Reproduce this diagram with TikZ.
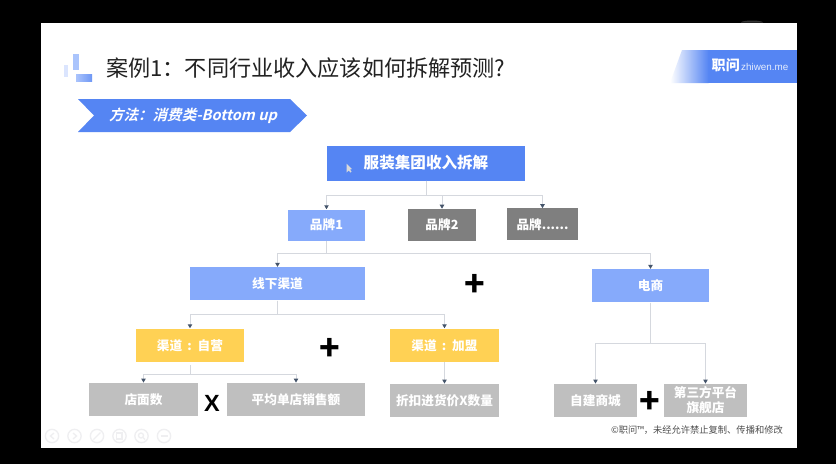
\documentclass[tikz,border=0pt]{standalone}
\usepackage{fontspec}
\usepackage{xcolor}
\usepackage{tikz}
\usetikzlibrary{arrows.meta,calc}
\setmainfont{Noto Sans CJK SC}
\newfontfamily\slantfont[FakeSlant=0.25,BoldFont={Noto Sans CJK SC Bold},BoldFeatures={FakeSlant=0.25}]{Noto Sans CJK SC}
\setsansfont{Liberation Sans}
\definecolor{ink}{HTML}{222222}
\definecolor{bluemain}{HTML}{5585F3}
\definecolor{bluesoft}{HTML}{86AAFB}
\definecolor{graydark}{HTML}{7F7F7F}
\definecolor{graysoft}{HTML}{BFBFBF}
\definecolor{amber}{HTML}{FFD154}
\definecolor{linegray}{HTML}{D5D8DE}
\definecolor{tipgray}{HTML}{44546A}
\definecolor{iconpale}{HTML}{EFEFF1}
\tikzset{
  box/.style={rectangle, draw=none, align=center, text=white, font=\fontsize{10.8}{12.8}\selectfont\bfseries, inner sep=0pt},
  headbox/.style={box, fill=bluemain, minimum width=5.94cm, minimum height=1.05cm, font=\fontsize{13.3}{15}\selectfont\bfseries},
  softbox/.style={box, fill=bluesoft, minimum height=1.0cm},
  darkbox/.style={box, fill=graydark, minimum height=0.95cm},
  ambbox/.style={box, fill=amber, minimum width=3.26cm, minimum height=1.0cm},
  leaf/.style={box, fill=graysoft, minimum height=1.0cm},
  sign/.style={font=\fontsize{29}{29}\selectfont\bfseries, text=black, inner sep=0pt},
  arrow/.style={draw=linegray, line width=0.03cm, -{Triangle[length=1.2mm,width=1.3mm,color=tipgray]}},
  icon/.style={circle, draw=iconpale, line width=0.04cm, minimum size=0.4cm, inner sep=0pt}
}
\begin{document}
\begin{tikzpicture}[x=0.03cm,y=-0.03cm]
  \useasboundingbox (0,0) rectangle (836,464);
  \fill[black] (0,0) rectangle (836,464);
  \fill[white] (41,22.5) rectangle (797,448);
  \fill[black!80] (741,22.5) arc[start angle=180, end angle=360, x radius=11, y radius=2] -- cycle;
  % logo
  \fill[bluesoft!30] (64,65) rectangle (67.5,77);
  \fill[bluesoft!70] (73,54) rectangle (79,70);
  \shade[left color=bluesoft!70, right color=bluemain!85] (76,74) rectangle (92,81);
  % title
  \node[anchor=west, inner sep=0pt, text=ink, font=\fontsize{18.9}{20}\selectfont] (title) at (106,68) {案例1^^^^ff1a不同行业收入应该如何拆解预测?};
  % badge
  \fill[bluemain] (708,50) rectangle (797,83);
  \shade[left color=white, right color=bluemain, draw=none] (670,83) -- (682,50) -- (708.5,50) -- (708.5,83) -- cycle;
  \node[anchor=west, inner sep=0pt, text=white, font=\fontsize{12}{13}\selectfont\bfseries] (brandcn) at (711.5,65.5) {职问};
  \node[anchor=west, inner sep=0pt, text=white!85!bluemain, font=\fontsize{8.4}{9}\sffamily] (brandurl) at (741,67) {zhiwen.me};
  % method banner
  \fill[bluemain] (78,99) -- (290,99) -- (307,115.5) -- (290,132) -- (78,132) -- (94,115.5) -- cycle;
  \node[inner sep=0pt, text=white, font=\fontsize{12.4}{13}\slantfont\bfseries] (method) at (193,116) {方法^^^^ff1a消费类-Bottom up};
  % tree
  \node[headbox] (group) at (426,163) {服装集团收入拆解};
  \node[softbox, minimum width=2.31cm, minimum height=0.93cm] (brand1) at (326.5,225) {品牌1};
  \node[darkbox, minimum width=2.04cm] (brand2) at (442,224.8) {品牌2};
  \node[darkbox, minimum width=2.13cm] (brand3) at (542.5,224.3) {品牌......};
  \node[softbox, minimum width=5.25cm] (offline) at (277.5,283.8) {线下渠道};
  \node[softbox, minimum width=3.51cm] (online) at (650.5,285.8) {电商};
  \node[ambbox] (direct) at (190,345.2) {渠道 \,:\, 自营};
  \node[ambbox] (franchise) at (444.5,345.2) {渠道 \,:\, 加盟};
  \node[leaf, minimum width=3.27cm] (stores) at (143.5,399.5) {店面数};
  \node[leaf, minimum width=4.14cm] (sales) at (296,399.5) {平均单店销售额};
  \node[leaf, minimum width=3.27cm] (discount) at (444.5,400.5) {折扣进货价X数量};
  \node[leaf, minimum width=2.49cm] (ownshop) at (595.5,400.5) {自建商城};
  \node[leaf, minimum width=2.49cm] (thirdshop) at (705.5,400.5) {第三方平台\\旗舰店};
  % signs
  \node[sign] (plusa) at (474.5,285) {+};
  \node[sign] (plusb) at (329.5,349) {+};
  \node[sign] (plusc) at (649.5,402) {+};
  \node[sign, font=\fontsize{20}{20}\sffamily\bfseries] (times) at (212,403) {X};
  % connectors
  \coordinate (busa) at (426,195);
  \coordinate (busb) at (326.5,253.5);
  \coordinate (busc) at (277.5,314.5);
  \coordinate (busd) at (190,374.5);
  \coordinate (buse) at (650.5,343);
  \draw[arrow] (group.south) -- (busa) -| (brand1.north);
  \draw[arrow] (group.south) -- (busa) -| (brand2.north);
  \draw[arrow] (group.south) -- (busa) -| (brand3.north);
  \draw[arrow] (brand1.south) -- (busb) -| (offline.north);
  \draw[arrow] (brand1.south) -- (busb) -| (online.north);
  \draw[arrow] (offline.south) -- (busc) -| (direct.north);
  \draw[arrow] (offline.south) -- (busc) -| (franchise.north);
  \draw[arrow, shorten <=0.1cm] (direct.south) -- (busd) -| (stores.north);
  \draw[arrow, shorten <=0.1cm] (direct.south) -- (busd) -| (sales.north);
  \draw[arrow] (franchise.south) -- (discount.north);
  \draw[arrow] (online.south) -- (buse) -| (ownshop.north);
  \draw[arrow] (online.south) -- (buse) -| (thirdshop.north);
  % pointer
  \fill[white!85!black] (346.5,163.5) -- (346.5,172.5) -- (348.6,170.4) -- (350.5,172.5) -- (351.5,171.5) -- (350,169.5) -- (352,169) -- cycle;
  % footer
  \node[anchor=east, inner sep=0pt, text=ink!80, font=\fontsize{7.9}{9}\selectfont] (footer) at (783,430) {©职问™^^^^ff0c未经允许禁止复制、传播和修改};
  % player icons
  \foreach \name/\xpos in {prev/52, next/74.5, pen/97, copy/119.5, zoom/141.5, more/164}
    \node[icon] (\name) at (\xpos,436) {};
  \draw[iconpale, line width=0.04cm] (54,433) -- (50.5,436) -- (54,439);
  \draw[iconpale, line width=0.04cm] (73,433) -- (76.5,436) -- (73,439);
  \draw[iconpale, line width=0.04cm] (93.5,439.5) -- (100.5,432.5);
  \draw[iconpale, line width=0.04cm] (116.5,433) rectangle (122,439);
  \draw[iconpale, line width=0.04cm] (141,435.5) circle[radius=2.5] (143,437.5) -- (145,439.5);
  \draw[iconpale, line width=0.04cm] (160.5,436) -- (167.5,436);
\end{tikzpicture}
\end{document}
